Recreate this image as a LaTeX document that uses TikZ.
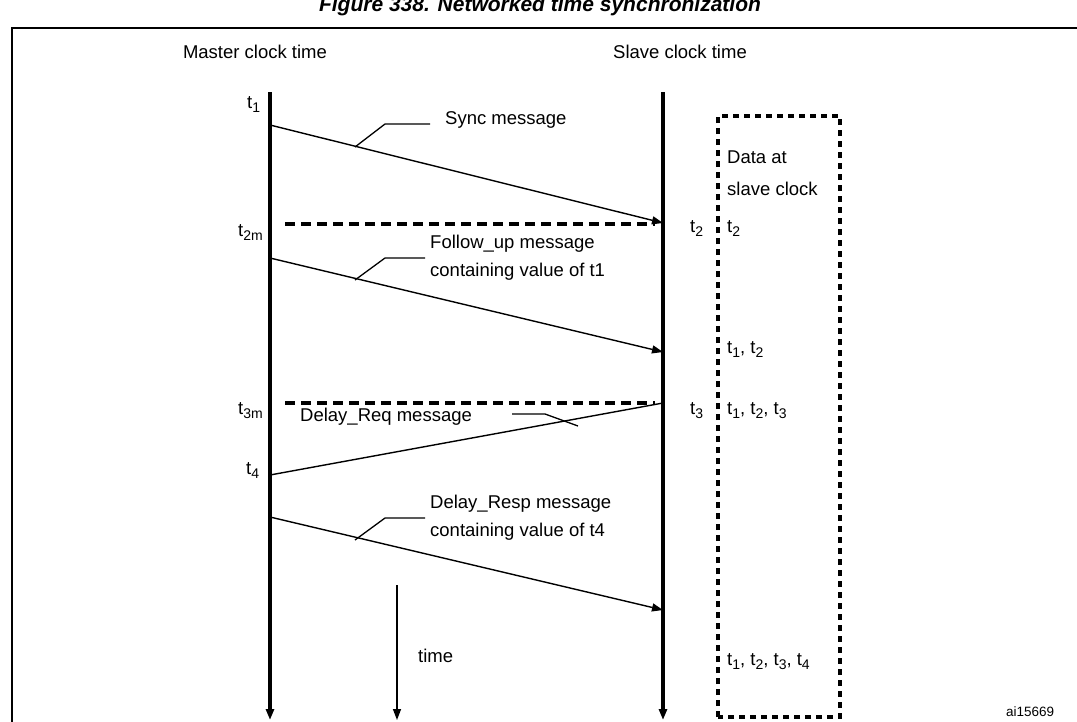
\documentclass[tikz,border=0pt]{standalone}
\usepackage{fontspec}
\setmainfont{Liberation Sans}
\usetikzlibrary{arrows.meta}
\newcommand\tsub[1]{\raisebox{-0.45ex}{\fontsize{14}{14}\selectfont #1}}
\begin{document}
\begin{tikzpicture}[x=1pt,y=-1pt,>={Triangle[length=11pt,width=8pt]}]
	\fontsize{18.5}{22}\selectfont
	\tikzset{label/.style={inner sep=0pt,anchor=base west},
		axis/.style={line width=3.6pt,->},
		msg/.style={line width=1.4pt,->},
		lead/.style={line width=1.3pt},
		tmark/.style={line width=3.6pt,dash pattern=on 10pt off 6pt},
		boxd/.style={line width=3.6pt,dash pattern=on 6pt off 5pt}}
	\useasboundingbox (0,0) rectangle (1077,721);
	\clip (0,0) rectangle (1077,721);

	\def \xm{270}
	\def \xs{663}

	% title and frame
	\node[inner sep=0pt,anchor=base,font=\fontsize{21}{24}\selectfont] (title) at (540,11) {\bfseries\itshape Figure 338. Networked time synchronization};
	\draw[line width=1.6pt] (12,740) -- (12,28) -- (1090,28);

	\node[inner sep=0pt,anchor=base] (hm) at (255,58) {Master clock time};
	\node[inner sep=0pt,anchor=base] (hs) at (680,58) {Slave clock time};

	% time axes
	\coordinate (m0) at (\xm,92);
	\coordinate (m1) at (\xm,720);
	\coordinate (s0) at (\xs,92);
	\coordinate (s1) at (\xs,720);
	\draw[axis] (m0) -- (m1);
	\draw[axis] (s0) -- (s1);
	\coordinate (ta) at (397,585);
	\coordinate (tb) at (397,720);
	\draw[line width=1.4pt,->] (ta) -- (tb);
	\node[label] (time) at (418,662) {time};

	% messages
	\coordinate (a1) at (\xm,125);
	\coordinate (b1) at (\xs,223);
	\draw[msg] (a1) -- (b1);
	\coordinate (a2) at (\xm,258);
	\coordinate (b2) at (\xs,352);
	\draw[msg] (a2) -- (b2);
	\coordinate (a3) at (\xs,403);
	\coordinate (b3) at (\xm,475);
	\draw[line width=1.4pt] (a3) -- (b3);
	\coordinate (a4) at (\xm,517);
	\coordinate (b4) at (\xs,610);
	\draw[msg] (a4) -- (b4);

	% dashed marks
	\coordinate (d2a) at (285,224);
	\coordinate (d2b) at (655,224);
	\draw[tmark] (d2a) -- (d2b);
	\coordinate (d3a) at (285,403);
	\coordinate (d3b) at (655,403);
	\draw[tmark] (d3a) -- (d3b);

	% message labels
	\draw[lead] (355,147) -- (385,124) -- (430,124);
	\node[label] (lsync) at (445,124) {Sync message};
	\draw[lead] (355,280) -- (385,258) -- (425,258);
	\node[label] (lfol1) at (430,248) {Follow\_up message};
	\node[label] (lfol2) at (430,276) {containing value of t1};
	\draw[lead] (512,414) -- (545,414) -- (578,426);
	\node[label] (lreq) at (300,421) {Delay\_Req message};
	\draw[lead] (355,540) -- (385,518) -- (425,518);
	\node[label] (lrsp1) at (430,508) {Delay\_Resp message};
	\node[label] (lrsp2) at (430,536) {containing value of t4};

	% time stamps
	\node[label] (t1) at (247,108) {t\tsub{1}};
	\node[label] (t2m) at (238,236) {t\tsub{2m}};
	\node[label] (t3m) at (238,414) {t\tsub{3m}};
	\node[label] (t4) at (246,474) {t\tsub{4}};
	\node[label] (t2) at (690,232) {t\tsub{2}};
	\node[label] (t3) at (690,414) {t\tsub{3}};

	% data at slave clock
	\draw[boxd] (718,717) -- (718,116) -- (840,116) -- (840,717) -- cycle;
	\node[label] (dat1) at (727,163) {Data at};
	\node[label] (dat2) at (727,195) {slave clock};
	\node[label] (dv1) at (727,232) {t\tsub{2}};
	\node[label] (dv2) at (727,353) {t\tsub{1}, t\tsub{2}};
	\node[label] (dv3) at (727,414) {t\tsub{1}, t\tsub{2}, t\tsub{3}};
	\node[label] (dv4) at (727,665) {t\tsub{1}, t\tsub{2}, t\tsub{3}, t\tsub{4}};

	\node[label,font=\fontsize{13.5}{15}\selectfont] (ai) at (1006,716) {ai15669};
\end{tikzpicture}
\end{document}
